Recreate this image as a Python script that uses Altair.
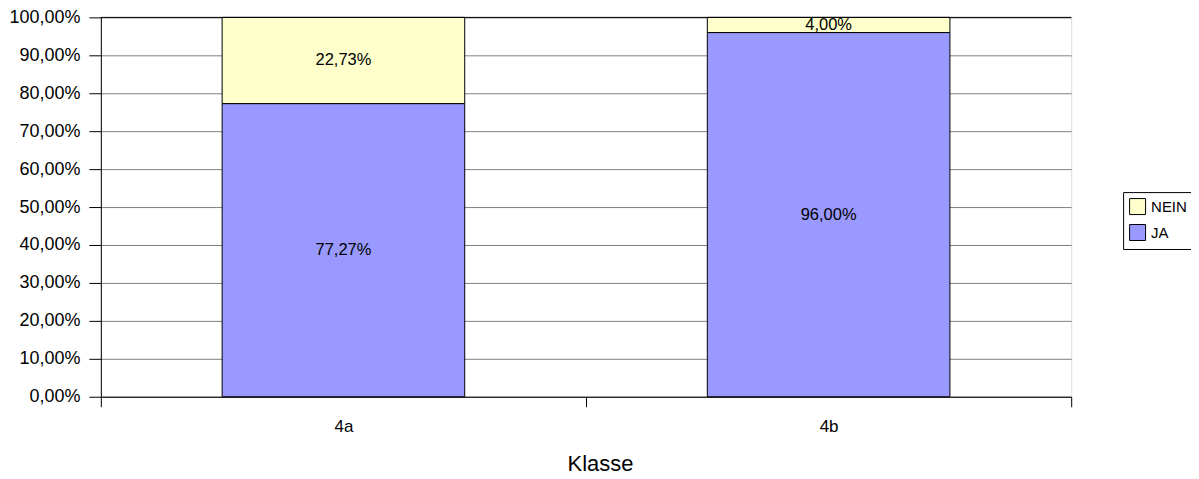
import altair as alt
import pandas as pd

klassen = ["4a", "4b"]
ja = [77.27, 96.00]
nein = [22.73, 4.00]
series = ["NEIN", "JA"]
colors = ["#FFFFCC", "#9999FF"]

rows = []
for k, j, n in zip(klassen, ja, nein):
    rows.append({"Klasse": k, "Antwort": "JA", "Wert": j, "start": 0.0, "end": j,
                 "mid": j / 2, "label": f"{j:.2f}".replace(".", ",") + "%"})
    rows.append({"Klasse": k, "Antwort": "NEIN", "Wert": n, "start": j, "end": j + n,
                 "mid": j + n / 2, "label": f"{n:.2f}".replace(".", ",") + "%"})
df = pd.DataFrame(rows)

FONT = "Liberation Sans"

xscale = alt.Scale(paddingInner=0, paddingOuter=0)
xaxis = alt.Axis(labelAngle=0, tickBand="extent", tickExtra=False, tickSize=10,
                 tickColor="black", domainColor="black",
                 labelFontSize=17, labelFont=FONT, labelColor="black",
                 labelPadding=12, titleFontSize=22, titleFont=FONT,
                 titleFontWeight="normal", titleColor="black",
                 titlePadding=19, titleX=500, titleAlign="center", grid=False)

yscale = alt.Scale(domain=[0, 100], nice=False)
yaxis = alt.Axis(values=list(range(0, 101, 10)), labelOverlap=False,
                 labelExpr="replace(format(datum.value, '.2f'), '.', ',') + '%'",
                 tickSize=12, tickColor="black", domainColor="black",
                 labelFontSize=18, labelFont=FONT, labelColor="black",
                 labelPadding=9, gridColor="#808080", gridWidth=1)

bars = alt.Chart(df).mark_bar(stroke="black", strokeWidth=1,
                              width=alt.RelativeBandSize(0.5)).encode(
    x=alt.X("Klasse:N", title="Klasse", scale=xscale, axis=xaxis),
    y=alt.Y("start:Q", scale=yscale, title=None, axis=yaxis),
    y2="end:Q",
    color=alt.Color("Antwort:N", scale=alt.Scale(domain=series, range=colors),
                    legend=alt.Legend(title=None, orient="none", legendX=1024, legendY=175,
                                      symbolType="square", symbolSize=256,
                                      symbolStrokeColor="black", symbolStrokeWidth=1,
                                      labelFontSize=15, labelFont=FONT, labelColor="black",
                                      strokeColor="black", fillColor="white",
                                      padding=6, rowPadding=5, labelOffset=5)),
)

toprule = alt.Chart(pd.DataFrame({"y": [100]})).mark_rule(color="black", strokeWidth=1).encode(
    y=alt.Y("y:Q", scale=yscale, title=None, axis=yaxis)
)

labels = alt.Chart(df).mark_text(fontSize=16.5, font=FONT, color="black", baseline="middle").encode(
    x=alt.X("Klasse:N", title="Klasse", scale=xscale, axis=xaxis),
    y=alt.Y("mid:Q", scale=yscale, title=None, axis=yaxis),
    text="label:N",
)

chart = alt.layer(bars, toprule, labels).properties(
    width=972, height=380,
    autosize=alt.AutoSizeParams(type="none"),
    padding={"left": 93, "top": 9, "right": 120, "bottom": 80},
).configure_view(stroke="transparent", strokeWidth=0).configure(background="white")

chart.save("out.html", embed_options={"renderer": "svg", "actions": False})
